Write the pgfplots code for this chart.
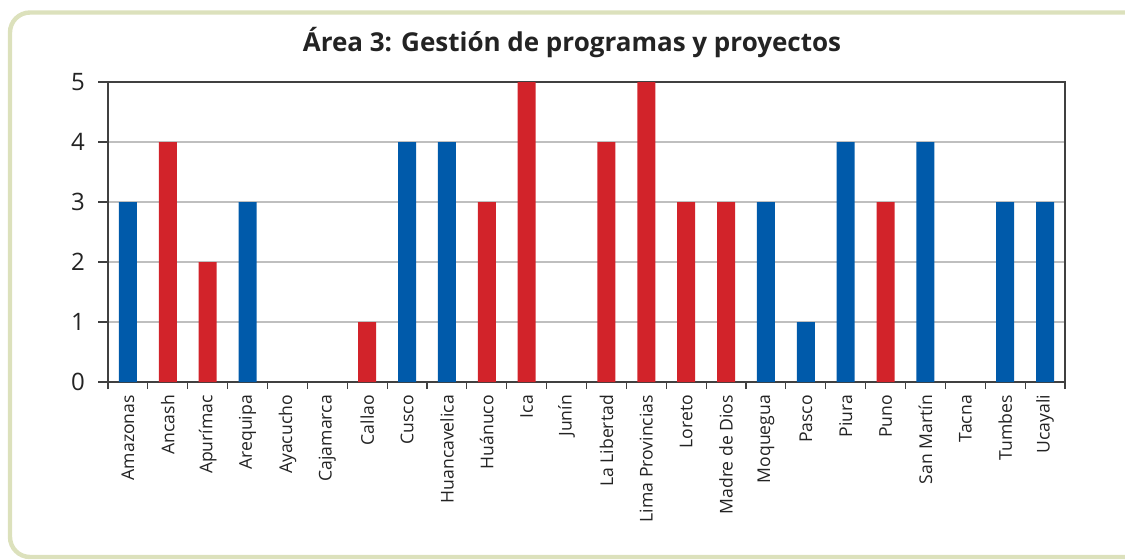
\documentclass[border=0pt]{standalone}
\usepackage{fontspec}
\setmainfont{Open Sans}
\usepackage{pgfplots}
\pgfplotsset{compat=1.18}
\definecolor{azul}{RGB}{0,90,170}
\definecolor{rojo}{RGB}{210,35,42}
\definecolor{marco}{RGB}{220,225,188}
\definecolor{texto}{RGB}{35,35,35}
\begin{document}
\begin{tikzpicture}
\useasboundingbox (0pt,0pt) rectangle (562.5pt,279.5pt);
\begin{scope}
  \clip (0pt,0pt) rectangle (562.5pt,279.5pt);
  \draw[marco, line width=2.2pt, rounded corners=10pt] (5pt,1pt) rectangle (580pt,273.25pt);
\end{scope}
\node[font=\bfseries\fontsize{13}{15}\selectfont, text=texto] at (286pt,258pt) {Área 3: Gestión de programas y proyectos};
\begin{axis}[
  at={(54pt,88.5pt)}, anchor=south west,
  scale only axis, width=478.5pt, height=150pt,
  xmin=0.5, xmax=24.5, ymin=0, ymax=5,
  xtick={1,...,24},
  xticklabels={Amazonas,Ancash,Apurímac,Arequipa,Ayacucho,Cajamarca,Callao,Cusco,Huancavelica,Huánuco,Ica,Junín,La Libertad,Lima Provincias,Loreto,Madre de Dios,Moquegua,Pasco,Piura,Puno,San Martín,Tacna,Tumbes,Ucayali},
  minor xtick={0.5,1.5,...,24.5},
  ytick={0,...,5},
  xtick pos=bottom, ytick pos=left,
  tick align=outside,
  major tick length=5pt,
  x tick style={draw=none},
  minor x tick style={draw=black!75, line width=0.6pt},
  minor tick length=3.5pt,
  y tick style={black!75, line width=0.6pt},
  ymajorgrids, grid style={black!25, line width=0.6pt},
  axis line style={black!75, line width=0.6pt},
  /pgf/number format/assume math mode=true,
  yticklabel style={font=\fontsize{12}{14}\selectfont, text=texto, xshift=-3pt},
  xticklabel style={font=\fontsize{8.8}{10}\selectfont, text=texto, rotate=90, anchor=east, xshift=2pt},
  ybar, bar width=9pt,
]
\addplot[fill=azul, draw=none, bar shift=0pt] coordinates {
  (1,3) (4,3) (8,4) (9,4) (17,3) (18,1) (19,4) (21,4) (23,3) (24,3)};
\addplot[fill=rojo, draw=none, bar shift=0pt] coordinates {
  (2,4) (3,2) (7,1) (10,3) (11,5) (13,4) (14,5) (15,3) (16,3) (20,3)};
\end{axis}
\end{tikzpicture}
\end{document}
